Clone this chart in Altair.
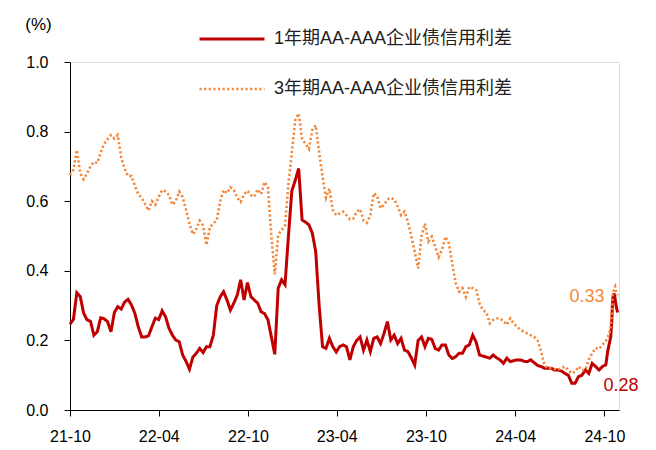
import altair as alt
import pandas as pd

# ---- data ----
weekly_dates = list(pd.date_range("2021-10-01", "2024-10-04", freq="7D").strftime("%Y-%m-%d"))
tail_dates = ["2024-10-08", "2024-10-11", "2024-10-14", "2024-10-16", "2024-10-18",
              "2024-10-21", "2024-10-23", "2024-10-25", "2024-10-28"]
dates = weekly_dates + tail_dates

spread_1y = [
    0.247, 0.26, 0.337, 0.326, 0.278, 0.259, 0.255, 0.215, 0.225, 0.265,
    0.262, 0.254, 0.225, 0.28, 0.297, 0.29, 0.31, 0.318, 0.302, 0.278,
    0.239, 0.21, 0.21, 0.213, 0.239, 0.264, 0.26, 0.285, 0.268, 0.235,
    0.215, 0.201, 0.196, 0.158, 0.14, 0.117, 0.152, 0.163, 0.177, 0.165,
    0.182, 0.182, 0.215, 0.30, 0.325, 0.34, 0.316, 0.287, 0.307, 0.33,
    0.374, 0.316, 0.366, 0.326, 0.316, 0.307, 0.282, 0.277, 0.259, 0.21,
    0.16, 0.35, 0.374, 0.36, 0.50, 0.63, 0.66, 0.694, 0.546, 0.54,
    0.532, 0.508, 0.455, 0.30, 0.182, 0.177, 0.206, 0.182, 0.167, 0.182,
    0.187, 0.182, 0.144, 0.182, 0.20, 0.21, 0.172, 0.201, 0.168, 0.206,
    0.21, 0.191, 0.22, 0.254, 0.201, 0.215, 0.191, 0.206, 0.172, 0.168,
    0.15, 0.129, 0.20, 0.21, 0.182, 0.206, 0.203, 0.177, 0.172, 0.187,
    0.187, 0.158, 0.148, 0.153, 0.163, 0.163, 0.182, 0.187, 0.215, 0.195,
    0.158, 0.155, 0.152, 0.149, 0.158, 0.15, 0.144, 0.134, 0.149, 0.139,
    0.142, 0.144, 0.144, 0.14, 0.139, 0.144, 0.136, 0.128, 0.125, 0.12,
    0.12, 0.12, 0.115, 0.115, 0.112, 0.105, 0.10, 0.077, 0.077, 0.096,
    0.10, 0.115, 0.105, 0.134, 0.125, 0.115, 0.125, 0.13,
    0.17, 0.19, 0.21, 0.25, 0.32, 0.335, 0.32, 0.30, 0.28,
]

spread_3y = [
    0.675, 0.69, 0.747, 0.68, 0.663, 0.68, 0.70, 0.713, 0.71, 0.74,
    0.765, 0.778, 0.79, 0.78, 0.79, 0.725, 0.694, 0.672, 0.672, 0.645,
    0.62, 0.61, 0.592, 0.573, 0.60, 0.59, 0.613, 0.632, 0.628, 0.618,
    0.59, 0.60, 0.628, 0.612, 0.575, 0.535, 0.505, 0.52, 0.544, 0.53,
    0.474, 0.525, 0.536, 0.545, 0.60, 0.632, 0.623, 0.64, 0.632, 0.61,
    0.598, 0.62, 0.63, 0.617, 0.613, 0.634, 0.62, 0.655, 0.64, 0.50,
    0.39, 0.503, 0.517, 0.53, 0.65, 0.74, 0.833, 0.852, 0.78, 0.765,
    0.75, 0.805, 0.818, 0.74, 0.67, 0.61, 0.636, 0.575, 0.56, 0.565,
    0.57, 0.56, 0.548, 0.55, 0.57, 0.577, 0.545, 0.538, 0.56, 0.623,
    0.615, 0.58, 0.59, 0.605, 0.61, 0.605, 0.585, 0.56, 0.57, 0.541,
    0.50, 0.455, 0.407, 0.50, 0.536, 0.484, 0.498, 0.47, 0.439, 0.46,
    0.498, 0.479, 0.42, 0.365, 0.34, 0.35, 0.325, 0.354, 0.35, 0.345,
    0.306, 0.287, 0.28, 0.249, 0.259, 0.263, 0.263, 0.255, 0.245, 0.263,
    0.249, 0.239, 0.23, 0.225, 0.22, 0.215, 0.21, 0.20, 0.17, 0.13,
    0.12, 0.12, 0.118, 0.116, 0.12, 0.125, 0.115, 0.105, 0.11, 0.125,
    0.115, 0.115, 0.145, 0.163, 0.178, 0.175, 0.187, 0.198,
    0.21, 0.22, 0.24, 0.28, 0.33, 0.35, 0.355, 0.34, 0.33,
]

series_names = ["1年期AA-AAA企业债信用利差", "3年期AA-AAA企业债信用利差"]
series_colors = ["#C00000", "#F4883A"]
end_labels = ["0.28", "0.33"]
tick_months = [(2021, 10), (2022, 4), (2022, 10), (2023, 4), (2023, 10), (2024, 4), (2024, 10)]

# ---- table ----
rows = []
for d, v in zip(dates, spread_1y):
    rows.append({"date": d, "series": series_names[0], "value": v})
for d, v in zip(dates, spread_3y):
    rows.append({"date": d, "series": series_names[1], "value": v})
df = pd.DataFrame(rows)

last1 = pd.DataFrame([{"date": dates[-1], "value": spread_1y[-1], "label": end_labels[0]}])
last3 = pd.DataFrame([{"date": dates[-1], "value": spread_3y[-1], "label": end_labels[1]}])

FONT = "Liberation Sans, Arial, Noto Sans CJK SC, sans-serif"

x_enc = alt.X(
    "date:T",
    scale=alt.Scale(type="utc",
                    domain=[alt.DateTime(year=2021, month=10, date=1, utc=True),
                            alt.DateTime(year=2024, month=10, date=31, utc=True)]),
    axis=alt.Axis(
        title=None,
        labelExpr="utcFormat(datum.value, '%y-%m')",
        values=[alt.DateTime(year=y, month=m, date=1, utc=True) for (y, m) in tick_months],
        grid=False, domainColor="black", tickColor="black", tickSize=6,
        labelFont=FONT, labelFontSize=16, labelColor="black", labelPadding=12,
        labelFlush=False,
    ),
)
y_enc = alt.Y(
    "value:Q",
    scale=alt.Scale(domain=[0, 1], nice=False),
    axis=alt.Axis(
        title="(%)", titleAngle=0, titleX=-32, titleY=-38, titleAlign="center",
        titleBaseline="middle", titleFont=FONT, titleFontSize=17,
        titleFontWeight="normal", titleColor="black",
        values=[0, 0.2, 0.4, 0.6, 0.8, 1.0], format=".1f",
        grid=False, domainColor="black", tickColor="black", tickSize=6,
        labelFont=FONT, labelFontSize=16, labelColor="black", labelPadding=16,
    ),
)

leg = alt.Legend(
    title=None, orient="none", legendX=128, legendY=-33, direction="vertical",
    symbolType="stroke", symbolSize=4225, symbolStrokeWidth=3, clipHeight=20,
    labelFont=FONT, labelFontSize=18, labelColor="#222222", labelLimit=400,
    labelOffset=8, rowPadding=30, padding=0,
)

lines = alt.Chart(df).mark_line(strokeCap="butt", interpolate="linear").encode(
    x=x_enc,
    y=y_enc,
    color=alt.Color("series:N", scale=alt.Scale(domain=series_names, range=series_colors),
                    legend=leg),
    strokeDash=alt.StrokeDash("series:N",
                              scale=alt.Scale(domain=series_names, range=[[1, 0], [2.2, 2.4]]),
                              legend=leg),
    strokeWidth=alt.StrokeWidth("series:N",
                                scale=alt.Scale(domain=series_names, range=[3, 2.6]),
                                legend=leg),
    order=alt.Order("date:T"),
)

lab1 = alt.Chart(last1).mark_text(
    align="left", baseline="middle", dx=-14, dy=73, font=FONT, fontSize=18,
    color=series_colors[0],
).encode(x=alt.X("date:T"), y=alt.Y("value:Q"), text="label:N")

lab3 = alt.Chart(last3).mark_text(
    align="right", baseline="middle", dx=-13, dy=2, font=FONT, fontSize=18,
    color=series_colors[1],
).encode(x=alt.X("date:T"), y=alt.Y("value:Q"), text="label:N")

chart = alt.layer(lines, lab1, lab3).properties(
    width=549, height=348,
    autosize=alt.AutoSizeParams(type="none"),
    padding={"left": 62, "top": 54, "right": 29, "bottom": 36},
).configure_view(stroke=None).configure(background="white").configure_legend(
    rowPadding=30, clipHeight=20
)

chart.save("out.html", embed_options={"renderer": "svg", "actions": False})
